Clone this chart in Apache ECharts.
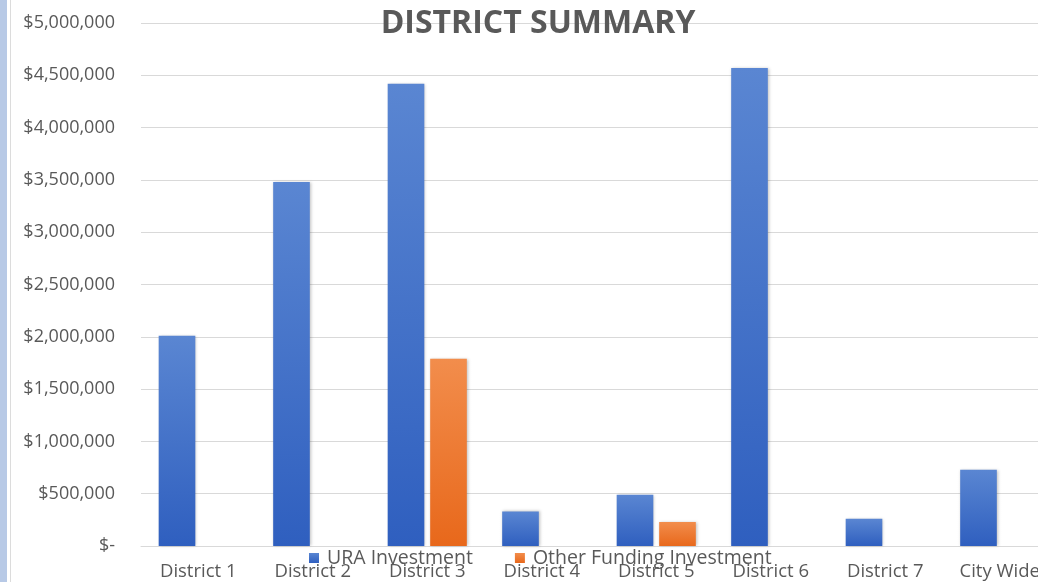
<!DOCTYPE html>
<html>
<head>
<meta charset="utf-8">
<script src="https://cdn.jsdelivr.net/npm/echarts@6/dist/echarts.min.js"></script>
<style>
  html, body { margin: 0; padding: 0; background: #fff; }
  #chart { width: 1038px; height: 582px; }
</style>
</head>
<body>
<div id="chart"></div>
<script>
const categories = ['District 1', 'District 2', 'District 3', 'District 4', 'District 5', 'District 6', 'District 7', 'City Wide'];
const uraInvestment = [2010000, 3480000, 4420000, 330000, 490000, 4570000, 260000, 730000];
const otherFunding = [null, null, 1790000, null, 230000, null, null, null];
const seriesNames = ['URA Investment', 'Other Funding Investment'];

const font = '"Open Sans", "Liberation Sans", sans-serif';
const textColor = '#595959';

function grad(top, bottom) {
  return new echarts.graphic.LinearGradient(0, 0, 0, 1, [
    { offset: 0, color: top },
    { offset: 1, color: bottom }
  ]);
}

function money(v) {
  if (v === 0) return '$-';
  return '$' + v.toLocaleString('en-US');
}

const chart = echarts.init(document.getElementById('chart'));
chart.setOption({
  animation: false,
  backgroundColor: '#fff',
  title: {
    text: 'DISTRICT SUMMARY',
    left: 533,
    textAlign: 'center',
    top: 3,
    textStyle: { fontFamily: font, fontSize: 32, fontWeight: 'bold', color: textColor }
  },
  graphic: [
    { type: 'rect', shape: { x: 0, y: 0, width: 7, height: 582 }, style: { fill: '#b7c9e6' } },
    { type: 'line', shape: { x1: 10.5, y1: 0, x2: 10.5, y2: 582 }, style: { stroke: '#dcdcdc', lineWidth: 1 } }
  ],
  legend: {
    data: seriesNames,
    top: 543,
    left: 304,
    itemWidth: 10,
    itemHeight: 10,
    itemGap: 42,
    icon: 'rect',
    textStyle: { fontFamily: font, fontSize: 19.5, color: textColor, padding: [0, 0, 0, 3] }
  },
  grid: { left: 141, width: 916, top: 23, bottom: 36, containLabel: false, outerBoundsMode: 'none' },
  xAxis: {
    type: 'category',
    data: categories,
    axisTick: { show: false },
    axisLine: { lineStyle: { color: '#d9d9d9' } },
    axisLabel: { fontFamily: font, fontSize: 18.5, color: textColor, margin: 16, interval: 0 }
  },
  yAxis: {
    type: 'value',
    min: 0,
    max: 5000000,
    interval: 500000,
    axisLine: { show: false },
    axisTick: { show: false },
    splitLine: { lineStyle: { color: '#d9d9d9' } },
    axisLabel: { fontFamily: font, fontSize: 18, color: textColor, margin: 26, formatter: money }
  },
  series: [
    {
      name: seriesNames[0],
      type: 'bar',
      data: uraInvestment,
      barWidth: '32%',
      barGap: '16%',
      itemStyle: { color: grad('#5a86d2', '#2f5fbf'), shadowColor: 'rgba(0,0,0,0.25)', shadowBlur: 3, shadowOffsetX: 1 }
    },
    {
      name: seriesNames[1],
      type: 'bar',
      data: otherFunding,
      barWidth: '32%',
      itemStyle: { color: grad('#f28d4c', '#e8681b'), shadowColor: 'rgba(0,0,0,0.25)', shadowBlur: 3, shadowOffsetX: 1 }
    }
  ]
});
</script>
</body>
</html>
